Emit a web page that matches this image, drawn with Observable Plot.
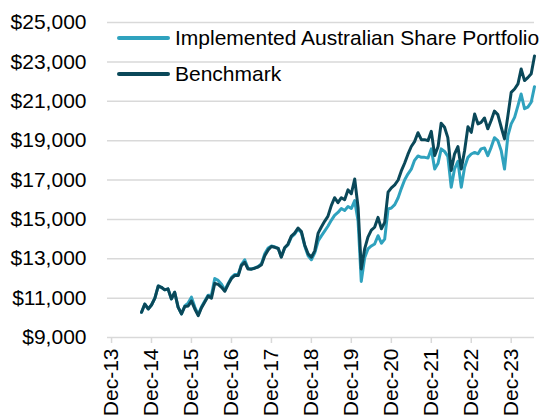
<!DOCTYPE html>
<html>
<head>
<meta charset="utf-8">
<script src="https://cdn.jsdelivr.net/npm/d3@7"></script>
<script src="https://cdn.jsdelivr.net/npm/@observablehq/plot@0.6"></script>
<style>
  html, body { margin: 0; padding: 0; background: #fff; }
  #wrap { position: relative; width: 548px; height: 415px; font-family: "Liberation Sans", Arial, sans-serif; }
  .leg { position: absolute; left: 117px; font-size: 21px; color: #000; display: flex; align-items: center; white-space: nowrap; }
  .leg span.sw { display: inline-block; width: 53px; height: 4px; border-radius: 2px; margin-right: 5px; }
</style>
</head>
<body>
<div id="wrap">
  <div class="leg" style="top:26px"><span class="sw" style="background:#2FA2BE"></span>Implemented Australian Share Portfolio</div>
  <div class="leg" style="top:62px"><span class="sw" style="background:#0A4859"></span>Benchmark</div>
</div>
<script>
// Monthly series, Sep 2014 .. Jul 2024
const startMonth = "2014-09-01";
const endMonth = "2024-07-01";

const seriesNames = ["Implemented Australian Share Portfolio", "Benchmark"];

const portfolioValues = [
  10280, 10700, 10450, 10650, 11000, 11620, 11550, 11420, 11470, 10960,
  11300, 10540, 10200, 10600, 10750, 11050, 10550, 10150, 10550, 10850,
  11150, 11150, 12000, 11900, 11700, 11400, 11750, 12050, 12200, 12200,
  12700, 12950, 12520, 12480, 12530, 12600, 12750, 13250, 13550, 13650,
  13600, 13530, 13100, 13550, 13700, 14100, 14250, 14500, 14330, 13650,
  13150, 12950, 13300, 13900, 14150, 14400, 14650, 14950, 15200, 15350,
  15550, 15450, 15650, 15550, 15950, 14900, 11850, 13050, 13500, 13650,
  13750, 14170, 13790, 14000, 15530, 15580, 15750, 16100, 16550, 17000,
  17300, 17550, 18000, 18220, 18150, 18150, 18120, 18580, 17560, 17850,
  18580, 18450, 18200, 16630, 17560, 17950, 16630, 17650, 18150, 18320,
  18400, 18330, 18580, 18630, 18240, 18660, 19150, 19000, 18490, 17560,
  19250, 19850, 20180, 20780, 21370, 20620, 20700, 20950, 21740
];

const benchmarkValues = [
  10280, 10700, 10450, 10650, 11000, 11620, 11550, 11420, 11470, 10960,
  11300, 10540, 10200, 10570, 10600, 10850, 10450, 10110, 10500, 10800,
  11100, 11000, 11750, 11700, 11550, 11350, 11700, 12000, 12150, 12150,
  12650, 12820, 12480, 12470, 12520, 12580, 12700, 13150, 13450, 13620,
  13580, 13520, 13080, 13560, 13740, 14150, 14300, 14560, 14380, 13700,
  13250, 13080, 13400, 14300, 14600, 14900, 15150, 15700, 16100, 15850,
  16100, 16000, 16500, 16300, 17050, 15600, 12480, 13500, 14100, 14450,
  14600, 15100, 14520, 14850, 16380, 16600, 16750, 17000, 17450, 17850,
  18300, 18700, 18950, 19400, 19050, 19050, 19000, 19470, 18240, 18700,
  19880, 19680, 19150, 17480, 18320, 18700, 17560, 18490, 19710, 19420,
  20350, 19850, 19930, 20150, 19600, 20020, 20500, 20320, 19680, 19090,
  20270, 21450, 21620, 21880, 22640, 22050, 22200, 22400, 23300
];

const yTicks = [9000, 11000, 13000, 15000, 17000, 19000, 21000, 23000, 25000];
const xTickLabels = ["Dec-13","Dec-14","Dec-15","Dec-16","Dec-17","Dec-18","Dec-19","Dec-20","Dec-21","Dec-22","Dec-23"];
const colors = ["#2FA2BE", "#0A4859"];

const parseTick = d3.utcParse("%b-%y");
const xTicks = xTickLabels.map(parseTick);
const months = d3.utcMonth.range(new Date(startMonth), d3.utcMonth.offset(new Date(endMonth), 1));

const portfolio = months.map((d, i) => ({date: d, value: portfolioValues[i]}));
const benchmark = months.map((d, i) => ({date: d, value: benchmarkValues[i]}));

const chart = Plot.plot({
  width: 548,
  height: 415,
  marginTop: 22,
  marginBottom: 78,
  marginLeft: 107,
  marginRight: 14,
  style: {fontFamily: "'Liberation Sans', Arial, sans-serif", fontSize: "21px", color: "#000", background: "transparent"},
  x: {type: "utc", domain: [new Date("2013-10-25"), new Date(endMonth)]},
  y: {domain: [9000, 25000]},
  marks: [
    Plot.gridY(yTicks.slice(1), {stroke: "#d9d9d9", strokeOpacity: 1, strokeWidth: 1.5}),
    Plot.ruleY([9000], {stroke: "#d9d9d9", strokeWidth: 1.5}),
    Plot.axisY(yTicks, {tickSize: 0, tickPadding: 21, fontSize: 21, tickFormat: d => "$" + d3.format(",")(d), label: null}),
    Plot.axisX(xTicks, {tickSize: 6, stroke: "#d9d9d9", strokeWidth: 1.5, tickPadding: 5, tickRotate: -90, fontSize: 21, tickFormat: d => xTickLabels[xTicks.findIndex(t => +t === +d)], label: null}),
    Plot.line(portfolio, {x: "date", y: "value", stroke: colors[0], strokeWidth: 3, strokeLinejoin: "round"}),
    Plot.line(benchmark, {x: "date", y: "value", stroke: colors[1], strokeWidth: 3, strokeLinejoin: "round"})
  ]
});
document.getElementById("wrap").prepend(chart);
</script>
</body>
</html>
